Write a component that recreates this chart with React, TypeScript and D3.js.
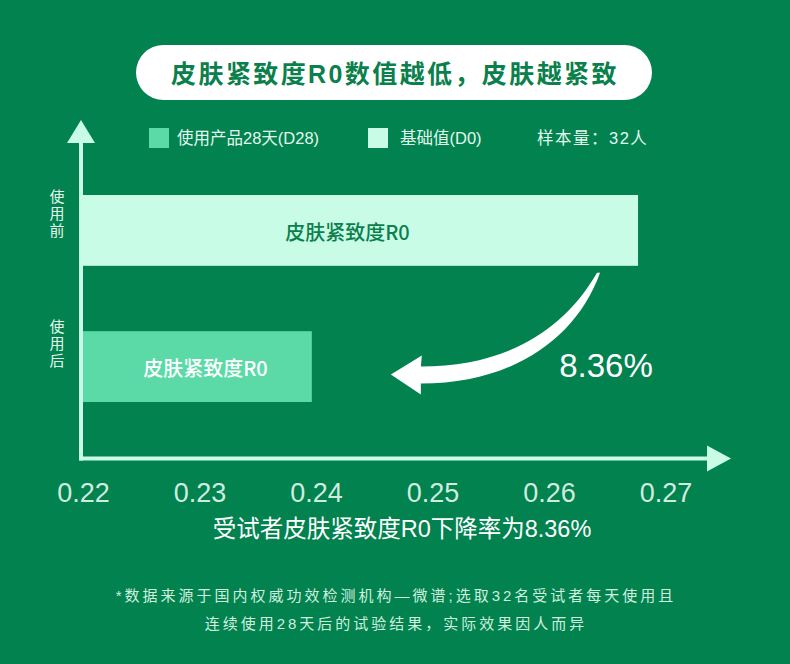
import React, { useEffect } from "react";
import * as d3 from "d3";

const categories = ["使用前", "使用后"];
const seriesNames = ["使用产品28天(D28)", "基础值(D0)"];
const values = [0.2676, 0.2396];
const tickValues = [0.22, 0.23, 0.24, 0.25, 0.26, 0.27];
const tickLabels = ["0.22", "0.23", "0.24", "0.25", "0.26", "0.27"];
const barLabel = "皮肤紧致度R0";
const titleText = "皮肤紧致度R0数值越低，皮肤越紧致";
const sampleText = "样本量：32人";
const changeText = "8.36%";
const xTitle = "受试者皮肤紧致度R0下降率为8.36%";
const footnotes = [
  "*数据来源于国内权威功效检测机构—微谱;选取32名受试者每天使用且",
  "连续使用28天后的试验结果，实际效果因人而异",
];

const W = 790;
const H = 664;
const BG = "#01824F";
const MINT = "#C8FCE7";
const MID = "#5BDAA8";
const DARK = "#0B7F4C";
const LIGHT = "#E3F9EE";
const FONT = "'Liberation Sans', 'Noto Sans CJK SC', sans-serif";
const CJK = "'Noto Sans CJK SC', sans-serif";

export default function App() {
  useEffect(() => {
    document.body.style.margin = "0";
  }, []);

  const x = d3.scaleLinear().domain([0.22, 0.27]).range([83.5, 666]);
  const y = d3.scaleBand<string>().domain(categories).range([195, 402]).paddingInner(0.48).paddingOuter(0);
  const bw = y.bandwidth();
  const axisX = x(0.22) - 2.5;
  const axisY = y(categories[1])! + bw + 56.5;
  const barColors = [MINT, MID];
  const labelColors = [DARK, "#FFFFFF"];

  // curved annotation arrow anchored to bar ends
  const tail: [number, number] = [x(values[0]) - 41, y(categories[0])! + bw + 7];
  const tip: [number, number] = [x(values[1]) + 79, y(categories[1])! + bw / 2 + 8];
  const hb = tip[0] + 30;
  const arrowPath = d3.path();
  arrowPath.moveTo(tail[0], tail[1]);
  arrowPath.bezierCurveTo(tail[0] - 36, tail[1] + 62, tail[0] - 96, tip[1] - 8, hb, tip[1] - 8);
  arrowPath.lineTo(hb + 1, tip[1] - 19);
  arrowPath.lineTo(tip[0], tip[1]);
  arrowPath.lineTo(hb, tip[1] + 20);
  arrowPath.lineTo(hb, tip[1] + 9);
  arrowPath.bezierCurveTo(tail[0] - 86, tip[1] + 9, tail[0] - 21, tail[1] + 67, tail[0] + 3, tail[1]);
  arrowPath.closePath();

  const yTop = 120;
  const xRight = 731;

  return (
    <svg width={W} height={H} style={{ display: "block", background: BG }} fontFamily={FONT}>
      <rect x={0} y={0} width={W} height={H} fill={BG} />
      {/* title pill */}
      <rect x={136} y={45} width={516} height={55} rx={27.5} fill="#FFFFFF" />
      <text x={395} y={73.5} textAnchor="middle" dominantBaseline="central" fontSize={25} fontWeight={700} fill={DARK} letterSpacing={2.4}>
        {titleText}
      </text>

      {/* legend */}
      <rect x={149} y={128} width={20} height={20} fill={MID} />
      <text x={177} y={138} dominantBaseline="central" fontSize={16.5} fill={LIGHT}>{seriesNames[0]}</text>
      <rect x={368} y={128} width={20} height={20} fill={MINT} />
      <text x={400} y={138} dominantBaseline="central" fontSize={16.5} fill={LIGHT}>{seriesNames[1]}</text>
      <text x={537} y={138} dominantBaseline="central" fontSize={16.5} fill={LIGHT} letterSpacing={1.5}>{sampleText}</text>

      {/* bars */}
      {categories.map((c, i) => (
        <g key={c}>
          <rect x={axisX} y={y(c)} width={x(values[i]) - axisX} height={bw} fill={barColors[i]} />
          <text
            x={(axisX + x(values[i])) / 2 + (i === 0 ? -12 : 9)}
            y={y(c)! + bw / 2 + 1}
            textAnchor="middle"
            dominantBaseline="central"
            fontSize={20}
            fontWeight={500}
            fontFamily={CJK}
            fill={labelColors[i]}
          >
            {barLabel}
          </text>
          <text
            x={57}
            y={y(c)! + (i === 0 ? -6 : -12)}
            fontSize={15}
            fill={LIGHT}
            fontFamily={CJK}
            style={{ writingMode: "vertical-rl" }}
            letterSpacing={2}
          >
            {c}
          </text>
        </g>
      ))}

      {/* axes */}
      <line x1={axisX} x2={axisX} y1={yTop + 20} y2={axisY + 2} stroke={MINT} strokeWidth={4} />
      <path d={`M${axisX},${yTop} L${axisX + 14},${yTop + 23} L${axisX - 14},${yTop + 23} Z`} fill={MINT} />
      <line x1={axisX - 2} x2={xRight - 20} y1={axisY} y2={axisY} stroke={MINT} strokeWidth={4} />
      <path d={`M${xRight},${axisY} L${xRight - 24},${axisY - 13} L${xRight - 24},${axisY + 13} Z`} fill={MINT} />

      {tickValues.map((t, i) => (
        <text key={t} x={x(t)} y={502} textAnchor="middle" fontSize={27} fill={LIGHT} fillOpacity={0.92}>
          {tickLabels[i]}
        </text>
      ))}
      <text x={402} y={529} textAnchor="middle" dominantBaseline="central" fontSize={23.5} fill="#FFFFFF">
        {xTitle}
      </text>

      {/* annotation */}
      <path d={arrowPath.toString()} fill="#FFFFFF" />
      <text x={606} y={377} textAnchor="middle" fontSize={33} fill="#FFFFFF">{changeText}</text>

      {/* footnotes */}
      {footnotes.map((f, i) => (
        <text key={i} x={396} y={595 + i * 28} textAnchor="middle" dominantBaseline="central" fontSize={15} letterSpacing={3} fill="#CFEFDF">
          {f}
        </text>
      ))}
    </svg>
  );
}
